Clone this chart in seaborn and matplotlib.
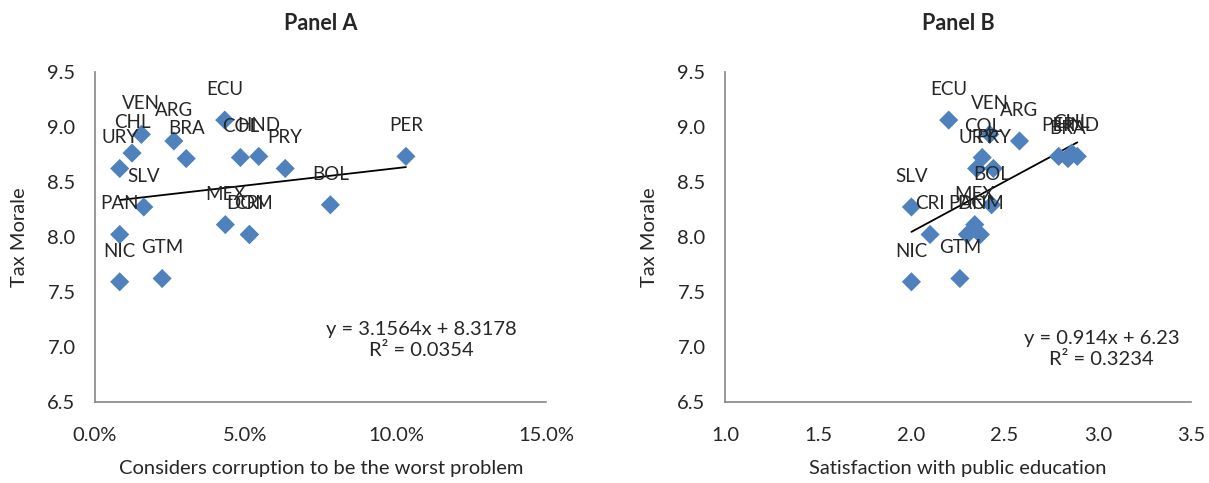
import matplotlib
matplotlib.use("Agg")
import matplotlib.pyplot as plt
from matplotlib.ticker import PercentFormatter, MultipleLocator
import seaborn as sns
import pandas as pd
import numpy as np

# Data
countries = ["ARG", "BOL", "BRA", "CHL", "COL", "CRI", "DOM", "ECU", "GTM",
             "HND", "MEX", "NIC", "PAN", "PER", "PRY", "SLV", "URY", "VEN"]
tax_morale = [8.87, 8.29, 8.71, 8.76, 8.72, 8.02, 8.02, 9.06, 7.62,
              8.73, 8.11, 7.59, 8.02, 8.73, 8.62, 8.27, 8.62, 8.93]
corruption_share = [0.0262, 0.0782, 0.0303, 0.0123, 0.0483, 0.0513, 0.0513, 0.0431, 0.0223,
                    0.0544, 0.0433, 0.0082, 0.0082, 0.1033, 0.0632, 0.0162, 0.0082, 0.0154]
education_satisfaction = [2.58, 2.43, 2.84, 2.86, 2.38, 2.10, 2.37, 2.20, 2.26,
                          2.89, 2.34, 2.00, 2.30, 2.79, 2.44, 2.00, 2.35, 2.42]

eq_a = ["y = 3.1564x + 8.3178", "R\u00b2 = 0.0354"]
eq_b = ["y = 0.914x + 6.23", "R\u00b2 = 0.3234"]

df = pd.DataFrame({"country": countries, "tax": tax_morale,
                   "corr": corruption_share, "edu": education_satisfaction})

sns.set_theme(style="white")
plt.rcParams["font.family"] = ["Lato", "DejaVu Sans"]

MARKER_BLUE = "#4F81BD"
AXIS_GRAY = "#868686"


def draw_panel(ax, xcol, title, xlabel, eq_lines, eq_pos):
    sns.regplot(data=df, x=xcol, y="tax", ax=ax, scatter=False, ci=None,
                truncate=True, line_kws={"color": "black", "lw": 1.3})
    sns.scatterplot(data=df, x=xcol, y="tax", ax=ax, marker="D", s=95,
                    color=MARKER_BLUE, edgecolor="none", zorder=3)
    for _, row in df.iterrows():
        ax.annotate(row["country"], (row[xcol], row["tax"]), xytext=(0, 22),
                    textcoords="offset points", ha="center", va="center",
                    fontsize=13.5, zorder=4)
    ax.text(eq_pos[0], eq_pos[1], eq_lines[0] + "\n" + eq_lines[1],
            ha="center", va="center", fontsize=14.5, linespacing=1.3)
    ax.set_title(title, fontsize=15.5, fontweight="bold", pad=30)
    ax.set_xlabel(xlabel, fontsize=14.5, labelpad=12)
    ax.set_ylabel("Tax Morale", fontsize=14.5, labelpad=14)
    ax.set_ylim(6.5, 9.5)
    ax.yaxis.set_major_locator(MultipleLocator(0.5))
    ax.yaxis.set_major_formatter(lambda v, p: f"{v:.1f}")
    for side in ["top", "right"]:
        ax.spines[side].set_visible(False)
    for side in ["left", "bottom"]:
        ax.spines[side].set_color(AXIS_GRAY)
        ax.spines[side].set_linewidth(1.2)
    ax.tick_params(axis="both", direction="out", length=5, width=1.2,
                   color=AXIS_GRAY, labelsize=14.5)
    ax.tick_params(axis="y", pad=9)
    ax.tick_params(axis="x", pad=13)


fig = plt.figure(figsize=(12.09, 4.83), dpi=100)
ax_a = fig.add_axes([0.0786, 0.1683, 0.3734, 0.6833])
ax_b = fig.add_axes([0.5997, 0.1683, 0.3854, 0.6833])

draw_panel(ax_a, "corr", "Panel A", "Considers corruption to be the worst problem",
           eq_a, (0.1085, 7.06))
ax_a.set_xlim(0, 0.15)
ax_a.xaxis.set_major_locator(MultipleLocator(0.05))
ax_a.xaxis.set_major_formatter(PercentFormatter(xmax=1, decimals=1))

draw_panel(ax_b, "edu", "Panel B", "Satisfaction with public education",
           eq_b, (3.02, 6.98))
ax_b.set_xlim(1.0, 3.5)
ax_b.xaxis.set_major_locator(MultipleLocator(0.5))
ax_b.xaxis.set_major_formatter(lambda v, p: f"{v:.1f}")

fig.savefig("out.png", dpi=100)
